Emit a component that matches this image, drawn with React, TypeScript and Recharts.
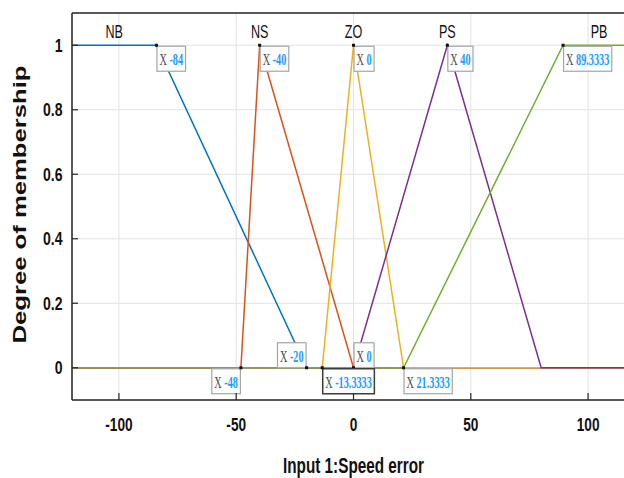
import React from 'react';
import { LineChart, Line, XAxis, YAxis, CartesianGrid, ReferenceDot } from 'recharts';

// membership functions of input 1 (speed error)
const nbX = [-120, -84, -20, 120];
const nbY = [1, 1, 0, 0];
const nsX = [-120, -48, -40, 0, 120];
const nsY = [0, 0, 1, 0, 0];
const zoX = [-120, -13.3333, 0, 21.3333, 120];
const zoY = [0, 0, 1, 0, 0];
const psX = [-120, 0, 40, 80, 120];
const psY = [0, 0, 1, 0, 0];
const pbX = [-120, 21.3333, 89.3333, 120];
const pbY = [0, 0, 1, 1];

const mfNames = ['NB', 'NS', 'ZO', 'PS', 'PB'];
const mfCenters = [-102, -40, 0, 40, 104.6667];

const xTicks = [-100, -50, 0, 50, 100];
const yTicks = [0, 0.2, 0.4, 0.6, 0.8, 1];

// data tips
const tipX = [-84, -40, 0, 40, 89.3333, -20, 0, -48, -13.3333, 21.3333];
const tipY = [1, 1, 1, 1, 1, 0, 0, 0, 0, 0];
const tipSide = ['se', 'se', 'se', 'se', 'se', 'nw', 'ne', 'sw', 'se', 'se'];
const tipActive = 8;

const toPts = (xs: number[], ys: number[]) => xs.map((x, i) => ({ x, y: ys[i] }));

const series = [
  { name: 'NB', data: toPts(nbX, nbY), color: '#0072BD' },
  { name: 'NS', data: toPts(nsX, nsY), color: '#D95319' },
  { name: 'ZO', data: toPts(zoX, zoY), color: '#EDB120' },
  { name: 'PS', data: toPts(psX, psY), color: '#7E2F8E' },
  { name: 'PB', data: toPts(pbX, pbY), color: '#77AC30' },
];

const AXIS = '#262626';
const SANS = 'Liberation Sans, Arial, sans-serif';
const SERIF = 'Liberation Serif, Times New Roman, serif';

const TIP_FONT = 16;
const TIP_SX = 0.64;

const charW: Record<string, number> = { '-': 0.333, '.': 0.25 };
const tipTextW = (s: string) => {
  let w = 0.722 + 0.25;
  for (const c of s) w += charW[c] ?? 0.5;
  return w * TIP_FONT * TIP_SX;
};

const DataTip = ({ cx, cy, label, side, active }: any) => {
  const w = tipTextW(label) + 6;
  const h = 26;
  const bx = side.includes('w') ? cx - w : cx;
  const by = side.includes('n') ? cy - h : cy;
  return (
    <g>
      <rect
        x={bx + 0.5}
        y={by + 1}
        width={w - 1}
        height={h - 1}
        fill="#fcfdff"
        stroke={active ? '#3c3c3c' : '#a5a5a5'}
        strokeWidth={active ? 1.5 : 1.2}
      />
      <text transform={`translate(${bx + 3},${by + 20}) scale(${TIP_SX},1)`} fontFamily={SERIF} fontSize={TIP_FONT}>
        <tspan fill="#4d4d4d">X </tspan>
        <tspan fill="#1a9bff" fontWeight="bold">{label}</tspan>
      </text>
      <rect x={cx - 1.5} y={cy - 1.5} width={3} height={3} fill="#111" />
    </g>
  );
};

const MfLabel = ({ cx, cy, name }: any) => (
  <text transform={`translate(${cx},${cy - 7}) scale(0.7,1)`} textAnchor="middle" fontFamily={SANS} fontSize={18} fill="#111">
    {name}
  </text>
);

const BottomTick = ({ x, y, payload }: any) => (
  <g>
    <line x1={x} y1={y} x2={x} y2={y - 7} stroke={AXIS} strokeWidth={1.2} />
    <text transform={`translate(${x},${y + 30.5}) scale(0.76,1)`} textAnchor="middle" fontFamily={SANS} fontWeight="bold" fontSize={18} fill="#111">
      {payload.value}
    </text>
  </g>
);

const TopTick = ({ x, y }: any) => (
  <line x1={x} y1={y} x2={x} y2={y + 7} stroke={AXIS} strokeWidth={1.2} />
);

const LeftTick = ({ x, y, payload }: any) => (
  <g>
    <line x1={x} y1={y} x2={x + 6} y2={y} stroke={AXIS} strokeWidth={1.2} />
    <text transform={`translate(${x - 9.5},${y + 6.5}) scale(0.78,1)`} textAnchor="end" fontFamily={SANS} fontWeight="bold" fontSize={18} fill="#111">
      {payload.value}
    </text>
  </g>
);

const XTitle = ({ viewBox }: any) => (
  <text
    transform={`translate(${viewBox.x + viewBox.width / 2},${viewBox.y + 73}) scale(0.68,1)`}
    textAnchor="middle"
    fontFamily={SANS}
    fontWeight="bold"
    fontSize={22.5}
    fill="#111"
  >
    Input 1:Speed error
  </text>
);

const YTitle = ({ viewBox }: any) => (
  <text
    transform={`translate(26,${viewBox.y + viewBox.height / 2 - 2}) rotate(-90)`}
    textAnchor="middle"
    fontFamily={SANS}
    fontWeight="bold"
    fontSize={17.5}
    textLength={278}
    lengthAdjust="spacingAndGlyphs"
    fill="#111"
  >
    Degree of membership
  </text>
);

export default function App() {
  return (
    <div style={{ position: 'absolute', left: 0, top: 0, width: 624, height: 478, overflow: 'hidden', background: '#fff' }}>
      <LineChart width={640} height={478} margin={{ top: 12, right: 5, bottom: 0, left: 0 }}>
        <CartesianGrid stroke="#e2e2e2" strokeWidth={1} />
        <XAxis
          dataKey="x"
          type="number"
          domain={[-120, 120]}
          ticks={xTicks}
          allowDataOverflow
          height={78}
          tickSize={0}
          tickMargin={0}
          tickLine={false}
          axisLine={{ stroke: AXIS, strokeWidth: 1.5 }}
          tick={BottomTick}
          label={{ content: XTitle }}
        />
        <XAxis
          xAxisId="top"
          orientation="top"
          type="number"
          domain={[-120, 120]}
          ticks={xTicks}
          height={1}
          tickSize={0}
          tickMargin={0}
          tickLine={false}
          axisLine={{ stroke: AXIS, strokeWidth: 1.5 }}
          tick={TopTick}
        />
        <YAxis
          type="number"
          domain={[-0.1, 1.1]}
          ticks={yTicks}
          allowDataOverflow
          width={72}
          tickSize={0}
          tickMargin={0}
          tickLine={false}
          axisLine={{ stroke: AXIS, strokeWidth: 1.5 }}
          tick={LeftTick}
          label={{ content: YTitle }}
        />
        {series.map((s) => (
          <Line
            key={s.name}
            data={s.data}
            dataKey="y"
            type="linear"
            stroke={s.color}
            strokeWidth={1.5}
            dot={false}
            activeDot={false}
            isAnimationActive={false}
          />
        ))}
        {mfNames.map((n, i) => (
          <ReferenceDot
            key={n}
            x={mfCenters[i]}
            y={1}
            r={0}
            shape={(p: any) => <MfLabel {...p} name={n} />}
          />
        ))}
        {tipX.map((x, i) => (
          <ReferenceDot
            key={`tip-${i}`}
            x={x}
            y={tipY[i]}
            r={0}
            shape={(p: any) => <DataTip {...p} label={String(x)} side={tipSide[i]} active={i === tipActive} />}
          />
        ))}
      </LineChart>
    </div>
  );
}
